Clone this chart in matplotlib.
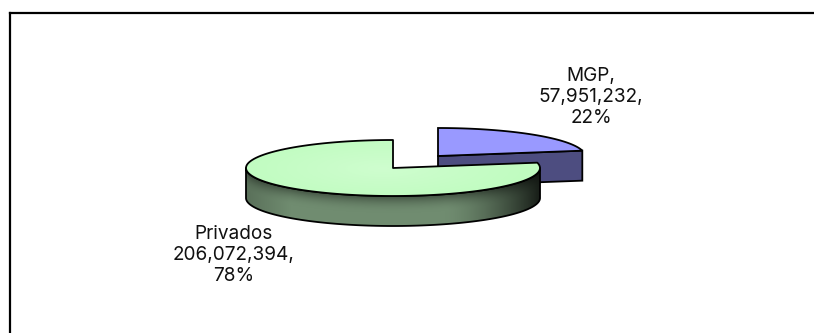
import numpy as np
import matplotlib
matplotlib.use('Agg')
import matplotlib.pyplot as plt
from matplotlib.patches import Polygon

W, H = 814, 333

labels = ['MGP', 'Privados']
values = [57951232, 206072394]
percents = ['22%', '78%']

# pie geometry, in pixels of the picture
RX, RY, DEPTH = 147, 28, 30
CENTERS = [(438, 156), (393, 168)]


def rim(cx, cy, a0, a1, n=120):
    # angles clockwise from the top of the pie
    t = np.radians(np.linspace(a0, a1, n))
    return np.column_stack([cx + RX * np.sin(t), cy - RY * np.cos(t)])


def shaded(ax, poly, rgb):
    # image clipped to a polygon, used for gradients
    im = ax.imshow(rgb, extent=[0, W, H, 0], aspect='auto', zorder=ax.zo, interpolation='bilinear')
    patch = Polygon(poly, closed=True, transform=ax.transData, fc='none', ec='none')
    ax.add_patch(patch)
    im.set_clip_path(patch)
    ax.zo += 1
    ax.add_patch(Polygon(poly, closed=True, fc='none', ec='black', lw=1.3, zorder=ax.zo, joinstyle='round'))
    ax.zo += 1


fig = plt.figure(figsize=(W / 100, H / 100), dpi=100)
ax = fig.add_axes([0, 0, 1, 1])
ax.zo = 2
ax.set_xlim(0, W)
ax.set_ylim(H, 0)
ax.axis('off')

# chart frame
ax.plot([9.5, 9.5], [H, 13], color='black', lw=1.6, zorder=1)
ax.plot([9.5, W], [13, 13], color='black', lw=1.6, zorder=1, solid_capstyle='projecting')

total = sum(values)
angle = np.cumsum([0] + values) / total * 360
yy, xx = np.mgrid[0:H, 0:W]

# MGP slice
cx, cy = CENTERS[0]
a0, a1 = angle[0], angle[1]
end = rim(cx, cy, a1, a1, 1)[0]
ax.add_patch(Polygon([(cx, cy), end, end + [0, DEPTH], (cx, cy + DEPTH)], closed=True,
                     fc='#4d4d80', ec='black', lw=1.3, zorder=ax.zo))
ax.zo += 1
ax.add_patch(Polygon(np.vstack([[(cx, cy)], rim(cx, cy, a0, a1)]), closed=True,
                     fc='#9999ff', ec='black', lw=1.3, zorder=ax.zo))
ax.zo += 1

# Privados slice, side first
cx, cy = CENTERS[1]
a0, a1 = angle[1], angle[2]
front = rim(cx, cy, max(a0, 90), 270)
side = np.vstack([front, front[::-1] + [0, DEPTH]])
# dark toward the right end and the upper rim, lighter on the left
u = (xx - cx) / RX
right = np.clip((u - 0.35) / 0.65, 0, 1) ** 1.5 * 0.8
left = np.clip((-u - 0.7) / 0.3, 0, 1) * 0.2
rim_y = cy + RY * np.sqrt(np.clip(1 - u ** 2, 0, 1))
upper = np.clip(1 - (yy - rim_y) / (DEPTH * 0.55), 0, 1) ** 2 * 0.4
shade = (1 - right) * (1 - left) * (1 - upper)
base = np.array([112, 140, 112]) / 255
rgb = base[None, None, :] * shade[..., None]
shaded(ax, side, np.clip(rgb, 0, 1))

top = np.vstack([[(cx, cy)], rim(cx, cy, a0, a1)])
d = np.hypot((xx - cx + 10) / RX, (yy - cy) / (RY * 1.2))
mix = np.clip(1 - d, 0, 1)[..., None] * 0.45
light = np.array([192, 252, 192]) / 255
rgb = light[None, None, :] * (1 - mix) + mix * np.array([0.88, 1.0, 0.88])
shaded(ax, top, rgb)

# data labels, the original text is stretched wide
font = dict(family=['Inter', 'Liberation Sans', 'DejaVu Sans'], fontsize=13.7, ha='center', va='center',
            linespacing=1.24, color='#111111')
ax.text(591, 97, f'{labels[0]},\n{values[0]:,},\n{percents[0]}', **font)
ax.text(234, 255, f'{labels[1]}\n{values[1]:,},\n{percents[1]}', **font)

fig.savefig('out.png', dpi=100)
